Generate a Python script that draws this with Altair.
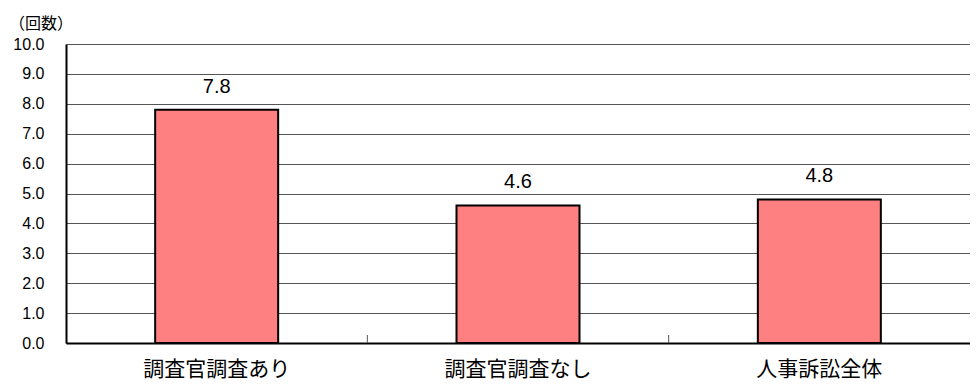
import altair as alt
import pandas as pd

categories = ["調査官調査あり", "調査官調査なし", "人事訴訟全体"]
values = [7.8, 4.6, 4.8]
y_ticks = [0, 1, 2, 3, 4, 5, 6, 7, 8, 9, 10]
unit_label = "（回数）"

df = pd.DataFrame({"cat": categories, "val": values})
df_sep = pd.DataFrame({"cat": categories[1:]})

FONT = "Noto Sans CJK JP"
NUMFONT = "Liberation Sans"
W, H = 904, 299

x_axis = alt.Axis(title=None, labelAngle=0, ticks=False)
y_axis = alt.Axis(title=None, values=y_ticks, format=".1f", tickSize=0,
                  grid=True, labelOverlap=False)
x_scale = alt.Scale(domain=categories, paddingInner=0, paddingOuter=0)
y_scale = alt.Scale(domain=[0, 10], nice=False)

bars = alt.Chart(df).mark_bar(
    size=123, color="#FF8080", stroke="black", strokeWidth=2
).encode(
    x=alt.X("cat:N", sort=categories, scale=x_scale, axis=x_axis),
    y=alt.Y("val:Q", scale=y_scale, axis=y_axis),
)

labels = alt.Chart(df).mark_text(
    dy=-13, baseline="bottom", fontSize=20, font=NUMFONT, color="black"
).encode(
    x=alt.X("cat:N", sort=categories, scale=x_scale, axis=x_axis),
    y=alt.Y("val:Q", scale=y_scale, axis=y_axis),
    text=alt.Text("val:Q", format=".1f"),
)

seps = alt.Chart(df_sep).mark_rule(color="#555555", strokeWidth=1).encode(
    x=alt.X("cat:N", sort=categories, scale=x_scale, axis=x_axis, bandPosition=0),
    y=alt.value(H - 8),
    y2=alt.value(H),
)

chart = alt.layer(bars, seps, labels).properties(
    width=W, height=H,
    title=alt.TitleParams(
        unit_label, anchor="start", frame="group", dx=-57, offset=4,
        fontSize=16, font=FONT, fontWeight="normal", color="black",
    ),
    autosize=alt.AutoSizeParams(type="none"),
    padding={"left": 58, "top": 36, "right": 0, "bottom": 40},
).configure_view(stroke=None).configure_axisX(
    labelFontSize=21, labelFont=FONT, labelColor="black",
    domainColor="black", domainWidth=2, labelPadding=15,
).configure_axisY(
    labelFontSize=16, labelFont=NUMFONT, labelColor="black", labelPadding=22,
    domainColor="black", domainWidth=2, gridColor="#555555", gridWidth=1,
    gridOpacity=1,
)

chart.save("out.html", embed_options={"renderer": "svg", "actions": False})
